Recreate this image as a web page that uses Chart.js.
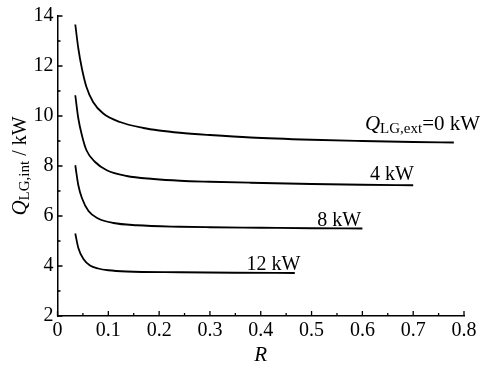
<!DOCTYPE html>
<html>
<head>
<meta charset="utf-8">
<script src="https://cdn.jsdelivr.net/npm/chart.js@4/dist/chart.umd.min.js"></script>
<style>
  html, body { margin: 0; padding: 0; background: #fff; }
  #wrap { width: 490px; height: 368px; }
</style>
</head>
<body>
<div id="wrap"><canvas id="chart" width="490" height="368"></canvas></div>
<script>
// values
const r0 = [0.035, 0.041, 0.048, 0.057, 0.070, 0.090, 0.123, 0.169, 0.20, 0.241, 0.30, 0.38, 0.50, 0.60, 0.70, 0.78];
const q0 = [13.66, 12.70, 11.90, 11.16, 10.56, 10.10, 9.76, 9.52, 9.42, 9.33, 9.24, 9.14, 9.05, 9.00, 8.96, 8.94];

const r4 = [0.035, 0.041, 0.048, 0.057, 0.074, 0.097, 0.136, 0.189, 0.241, 0.30, 0.38, 0.50, 0.60, 0.70];
const q4 = [10.83, 9.90, 9.23, 8.63, 8.16, 7.83, 7.60, 7.48, 7.41, 7.37, 7.33, 7.28, 7.25, 7.23];

const r8 = [0.035, 0.041, 0.048, 0.061, 0.080, 0.110, 0.156, 0.241, 0.30, 0.40, 0.50, 0.60];
const q8 = [8.03, 7.23, 6.72, 6.20, 5.90, 5.72, 5.63, 5.57, 5.55, 5.53, 5.51, 5.50];

const r12 = [0.035, 0.041, 0.051, 0.064, 0.080, 0.100, 0.136, 0.241, 0.35, 0.467];
const q12 = [5.30, 4.72, 4.28, 4.02, 3.90, 3.83, 3.78, 3.75, 3.73, 3.72];

const xTicks = [0, 0.1, 0.2, 0.3, 0.4, 0.5, 0.6, 0.7, 0.8];
const yTicks = [2, 4, 6, 8, 10, 12, 14];

// curve labels: [text, R of left edge, Q of baseline]
const curveLabels = [
  ["0 kW", 0.605, 9.43],
  ["4 kW", 0.615, 7.43],
  ["8 kW", 0.511, 5.59],
  ["12 kW", 0.372, 3.86]
];

const SERIF = "'Liberation Serif', 'Times New Roman', serif";

function pts(xs, ys) {
  return xs.map((x, i) => ({ x: x, y: ys[i] }));
}

function makeSet(xs, ys) {
  return {
    data: pts(xs, ys),
    showLine: true,
    borderColor: "#000",
    borderWidth: 1.8,
    pointRadius: 0,
    fill: false,
    cubicInterpolationMode: "monotone"
  };
}

const decorations = {
  id: "decorations",
  afterDraw(chart) {
    const ctx = chart.ctx;
    const xs = chart.scales.x;
    const ys = chart.scales.y;
    const area = chart.chartArea;
    ctx.save();
    ctx.strokeStyle = "#000";
    ctx.lineWidth = 1.3;

    // inward ticks, major and minor
    ctx.beginPath();
    for (let i = 0; i <= 16; i++) {
      const px = xs.getPixelForValue(i * 0.05);
      const len = i % 2 === 0 ? 5 : 3;
      ctx.moveTo(px, area.bottom);
      ctx.lineTo(px, area.bottom - len);
    }
    for (let v = 2; v <= 14; v++) {
      const py = ys.getPixelForValue(v);
      const len = v % 2 === 0 ? 5 : 3;
      ctx.moveTo(area.left, py);
      ctx.lineTo(area.left + len, py);
    }
    ctx.stroke();

    ctx.fillStyle = "#000";
    ctx.textBaseline = "alphabetic";
    ctx.textAlign = "left";

    // curve labels
    curveLabels.forEach((lab, i) => {
      let px = xs.getPixelForValue(lab[1]);
      const py = ys.getPixelForValue(lab[2]);
      if (i === 0) {
        ctx.font = "italic 21px " + SERIF;
        ctx.fillText("Q", px, py);
        px += ctx.measureText("Q").width;
        ctx.font = "15px " + SERIF;
        ctx.fillText("LG,ext", px, py + 3);
        px += ctx.measureText("LG,ext").width;
        ctx.font = "21px " + SERIF;
        ctx.fillText("=" + lab[0], px, py);
      } else {
        ctx.font = "20px " + SERIF;
        ctx.fillText(lab[0], px, py);
      }
    });

    // y axis title with subscript
    const cy = (area.top + area.bottom) / 2;
    ctx.translate(26, cy);
    ctx.rotate(-Math.PI / 2);
    const parts = [
      ["italic 21px " + SERIF, "Q", 0],
      ["15px " + SERIF, "LG,int", 3],
      ["20px " + SERIF, " / kW", 0]
    ];
    let total = 0;
    parts.forEach(p => { ctx.font = p[0]; total += ctx.measureText(p[1]).width; });
    let tx = -total / 2;
    parts.forEach(p => {
      ctx.font = p[0];
      ctx.fillText(p[1], tx, p[2]);
      tx += ctx.measureText(p[1]).width;
    });
    ctx.restore();
  }
};

new Chart(document.getElementById("chart"), {
  type: "scatter",
  data: {
    datasets: [makeSet(r0, q0), makeSet(r4, q4), makeSet(r8, q8), makeSet(r12, q12)]
  },
  options: {
    responsive: false,
    animation: false,
    events: [],
    layout: { padding: { top: 16, right: 26, left: 0, bottom: 0 } },
    plugins: {
      legend: { display: false },
      tooltip: { enabled: false }
    },
    scales: {
      x: {
        type: "linear",
        min: 0,
        max: 0.8,
        afterBuildTicks: (scale) => { scale.ticks = xTicks.map(v => ({ value: v })); },
        afterFit: (scale) => { scale.height = 52; },
        grid: { display: false, drawTicks: false },
        border: { display: true, color: "#000", width: 1.5 },
        ticks: {
          color: "#000",
          padding: 3,
          maxRotation: 0,
          font: { family: SERIF, size: 20 },
          callback: (v) => String(Math.round(v * 10) / 10)
        },
        title: {
          display: true,
          text: "R",
          color: "#000",
          padding: { top: 0, bottom: 0 },
          font: { family: SERIF, size: 21, style: "italic" }
        }
      },
      y: {
        type: "linear",
        min: 2,
        max: 14,
        afterBuildTicks: (scale) => { scale.ticks = yTicks.map(v => ({ value: v })); },
        afterFit: (scale) => { scale.width = 57.5; },
        grid: { display: false, drawTicks: false },
        border: { display: true, color: "#000", width: 1.5 },
        ticks: {
          color: "#000",
          padding: 4,
          font: { family: SERIF, size: 20 }
        }
      }
    }
  },
  plugins: [decorations]
});
</script>
</body>
</html>
